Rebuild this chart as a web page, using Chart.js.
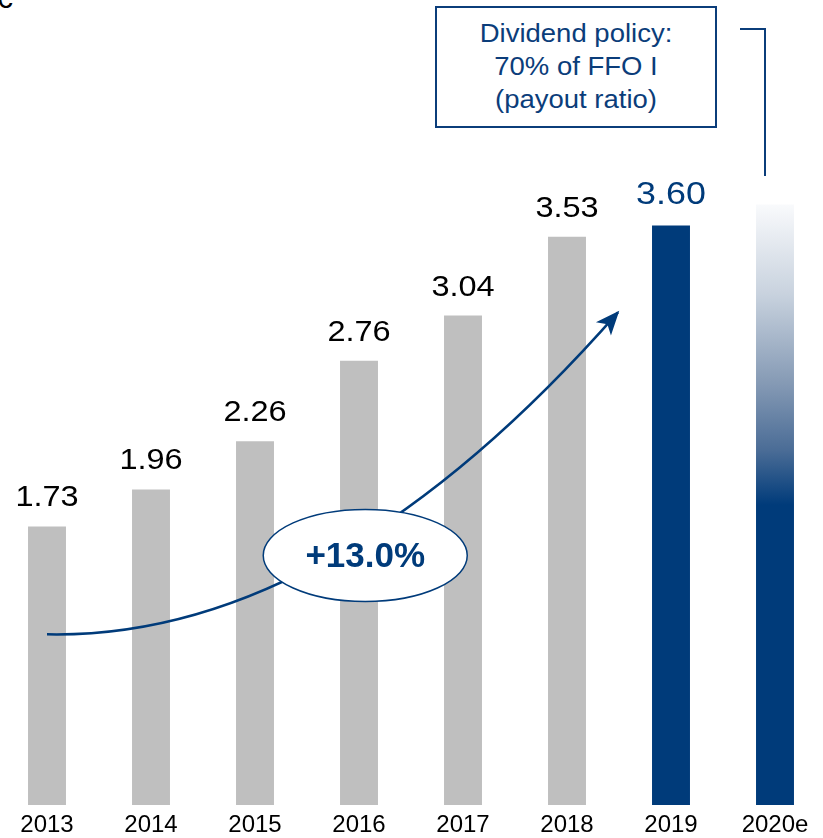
<!DOCTYPE html>
<html lang="en">
<head>
<meta charset="UTF-8">
<title>Dividend per share</title>
<script src="https://cdn.jsdelivr.net/npm/chart.js"></script>
<style>
    html, body { margin: 0; padding: 0; background: #fff; overflow: hidden; }
    body { width: 823px; height: 838px; position: relative; font-family: "Liberation Sans", Arial, sans-serif; }
    #chartDividend { position: absolute; left: -5px; top: 0; }
    .unit { position: absolute; left: -4px; top: -19px; font-size: 30px; line-height: normal; color: #000; }
    .policy-box {
        position: absolute; left: 435px; top: 6px; width: 282px; height: 122px;
        box-sizing: border-box; border: 2px solid #0b3d7a; color: #0b3d7a;
        text-align: center; font-size: 25px; line-height: 33px; padding-top: 9px;
    }
    .policy-box div { transform: scaleX(1.1); }
    .connector {
        position: absolute; left: 740px; top: 28px; width: 26px; height: 148px;
        box-sizing: border-box; border-top: 2px solid #0b3d7a; border-right: 2px solid #0b3d7a;
    }
</style>
</head>
<body>
<span class="unit">€</span>
<div class="policy-box"><div>Dividend policy:<br>70% of FFO I<br>(payout ratio)</div></div>
<div class="connector"></div>
<canvas id="chartDividend" width="832" height="838"></canvas>

<script>
    // datos
    const years = ['2013', '2014', '2015', '2016', '2017', '2018', '2019', '2020e'];
    const dividends = [1.73, 1.96, 2.26, 2.76, 3.04, 3.53, 3.60, 3.73];
    const valueLabels = ['1.73', '1.96', '2.26', '2.76', '3.04', '3.53', '3.60', null];
    const cagrLabel = '+13.0%';

    const NAVY = '#003b7a';
    const GRAY = '#bfbfbf';

    // barra 2020e con degradado (blanco arriba, azul abajo)
    function barColor(ctx) {
        const i = ctx.dataIndex;
        if (i < 6) return GRAY;
        if (i === 6) return NAVY;
        const chart = ctx.chart;
        const y = chart.scales.y;
        if (!chart.chartArea) return NAVY;
        const top = y.getPixelForValue(dividends[i]);
        const bottom = y.getPixelForValue(0);
        const g = chart.ctx.createLinearGradient(0, top, 0, bottom);
        g.addColorStop(0, '#f9fafc');
        g.addColorStop(0.15, '#c8d2de');
        g.addColorStop(0.3, '#8499b4');
        g.addColorStop(0.41, '#4a6c96');
        g.addColorStop(0.5, NAVY);
        g.addColorStop(1, NAVY);
        return g;
    }

    // etiquetas sobre las barras
    const valueLabelPlugin = {
        id: 'valueLabels',
        afterDatasetsDraw(chart) {
            const ctx = chart.ctx;
            const bars = chart.getDatasetMeta(0).data;
            bars.forEach((bar, i) => {
                if (!valueLabels[i]) return;
                const highlight = i === 6;
                ctx.save();
                ctx.translate(bar.x, bar.y - (highlight ? 21 : 20));
                ctx.scale(1.12, 1);
                ctx.font = (highlight ? '32px' : '29px') + ' "Liberation Sans", Arial, sans-serif';
                ctx.fillStyle = highlight ? NAVY : '#000';
                ctx.textAlign = 'center';
                ctx.textBaseline = 'alphabetic';
                ctx.fillText(valueLabels[i], 0, 0);
                ctx.restore();
            });
        }
    };

    // flecha de crecimiento y elipse con la tasa
    const trendPlugin = {
        id: 'trend',
        afterDatasetsDraw(chart) {
            const ctx = chart.ctx;
            const x = chart.scales.x, y = chart.scales.y;
            const p0 = { x: x.getPixelForValue(0), y: y.getPixelForValue(1.06) };
            const c = { x: x.getPixelForValue(2.72), y: y.getPixelForValue(1.025) };
            const p2 = { x: x.getPixelForValue(5.49), y: y.getPixelForValue(3.06) };

            ctx.save();
            ctx.strokeStyle = NAVY;
            ctx.fillStyle = NAVY;
            ctx.lineWidth = 2.5;
            ctx.beginPath();
            ctx.moveTo(p0.x, p0.y);
            ctx.quadraticCurveTo(c.x, c.y, p2.x, p2.y);
            ctx.stroke();

            // punta de flecha
            const ang = Math.atan2(p2.y - c.y, p2.x - c.x);
            ctx.translate(p2.x, p2.y);
            ctx.rotate(ang);
            ctx.beginPath();
            ctx.moveTo(2, 0);
            ctx.lineTo(-22, -10);
            ctx.lineTo(-16, 0);
            ctx.lineTo(-22, 10);
            ctx.closePath();
            ctx.fill();
            ctx.restore();

            // elipse
            const ex = x.getPixelForValue(3.06);
            const ey = y.getPixelForValue(1.55);
            ctx.save();
            ctx.beginPath();
            ctx.ellipse(ex, ey, 102, 46, 0, 0, Math.PI * 2);
            ctx.fillStyle = '#fff';
            ctx.fill();
            ctx.lineWidth = 1.5;
            ctx.strokeStyle = NAVY;
            ctx.stroke();
            ctx.fillStyle = NAVY;
            ctx.font = 'bold 35px "Liberation Sans", Arial, sans-serif';
            ctx.textAlign = 'center';
            ctx.textBaseline = 'middle';
            ctx.fillText(cagrLabel, ex, ey + 2);
            ctx.restore();
        }
    };

    new Chart(document.getElementById('chartDividend'), {
        type: 'bar',
        data: {
            labels: years,
            datasets: [{
                data: dividends,
                backgroundColor: barColor,
                borderWidth: 0,
                barPercentage: 0.365,
                categoryPercentage: 1
            }]
        },
        options: {
            responsive: false,
            animation: false,
            devicePixelRatio: 1,
            layout: { padding: 0 },
            plugins: { legend: { display: false }, tooltip: { enabled: false } },
            scales: {
                x: {
                    grid: { display: false, drawTicks: false },
                    border: { display: false },
                    ticks: {
                        color: '#000',
                        padding: 6,
                        font: { family: '"Liberation Sans", Arial, sans-serif', size: 24 }
                    },
                    afterFit(scale) { scale.height = 33; }
                },
                y: { display: false, min: 0, max: 5 }
            }
        },
        plugins: [valueLabelPlugin, trendPlugin]
    });
</script>
</body>
</html>
